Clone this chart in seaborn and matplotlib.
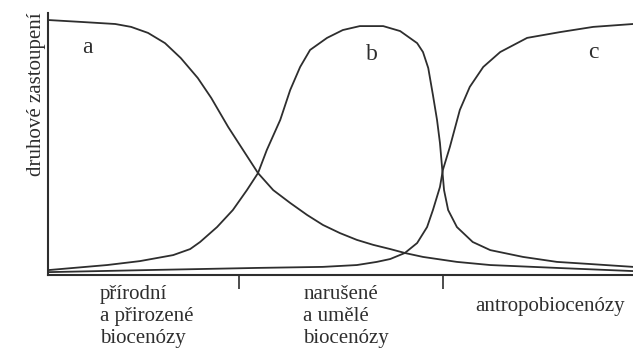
import numpy as np
import pandas as pd
import matplotlib
matplotlib.use('Agg')
import matplotlib.pyplot as plt
import seaborn as sns

# gradient position (0-100) and species share (0-100)
a_x = [0.2, 5.6, 11.5, 14.2, 17.1, 20.0, 22.7, 25.6, 27.9, 29.1, 30.8, 33.0, 35.9, 38.5, 41.4, 44.3,
       47.0, 49.9, 52.8, 55.6, 58.5, 61.0, 64.1, 69.9, 75.6, 87.0, 100]
a_y = [97.3, 96.6, 95.8, 94.7, 92.4, 88.5, 82.8, 75.2, 67.6, 63.0, 56.5, 48.9, 38.9, 32.4, 27.5, 22.9,
       19.1, 16.0, 13.4, 11.5, 9.9, 8.4, 6.9, 5.0, 3.8, 2.7, 1.5]

b_x = [0.2, 10.1, 15.7, 21.4, 24.3, 26.0, 28.9, 31.6, 34.0, 35.9, 37.4, 39.7, 41.4, 43.1, 44.8, 47.7,
       50.4, 53.3, 57.3, 60.2, 63.1, 64.1, 65.0, 65.8, 66.5, 67.0, 67.4, 67.7, 68.4, 69.9, 72.6, 75.6,
       81.2, 87.0, 92.6, 100]
b_y = [1.9, 3.8, 5.3, 7.6, 9.9, 12.6, 18.3, 24.8, 32.4, 38.9, 47.7, 59.2, 70.6, 79.4, 85.9, 90.5,
       93.5, 95.0, 95.0, 93.1, 88.5, 85.1, 79.0, 68.7, 59.2, 50.4, 40.1, 32.4, 24.8, 18.3, 12.6, 9.5,
       6.9, 5.0, 4.2, 3.1]

c_x = [0.2, 17.4, 35.7, 47.0, 52.8, 56.2, 58.5, 61.0, 63.1, 64.8, 65.8, 67.0, 67.5, 68.7, 70.4, 72.1,
       74.4, 77.3, 81.9, 87.5, 93.2, 100]
c_y = [1.1, 1.9, 2.7, 3.1, 3.8, 5.0, 6.1, 8.4, 12.2, 18.3, 24.8, 33.6, 40.1, 48.9, 63.0, 71.8,
       79.4, 85.1, 90.5, 92.7, 94.7, 95.8]

curve_names = ['a', 'b', 'c']
tick_pos = [32.6, 67.5]
categories = ['přírodní\na přirozené\nbiocenózy', 'narušené\na umělé\nbiocenózy', 'antropobiocenózy']
ylabel = 'druhové zastoupení'

df = pd.concat([
    pd.DataFrame({'x': a_x, 'y': a_y, 'curve': 'a'}),
    pd.DataFrame({'x': b_x, 'y': b_y, 'curve': 'b'}),
    pd.DataFrame({'x': c_x, 'y': c_y, 'curve': 'c'}),
])

sns.set_style('white')
plt.rcParams['font.family'] = ['Liberation Serif', 'DejaVu Serif']
ink = '#2e2e2e'

fig = plt.figure(figsize=(6.33, 3.5), dpi=100)
ax = fig.add_axes([48/633, 75/350, 585/633, 262/350])
sns.lineplot(data=df, x='x', y='y', hue='curve', palette=[ink]*3, estimator=None,
             linewidth=1.3, legend=False, ax=ax)
for ln in ax.lines:
    ln.set_solid_joinstyle('round')
ax.set_xlim(0, 100)
ax.set_ylim(0, 100)
sns.despine(ax=ax)
for s in ['left', 'bottom']:
    ax.spines[s].set_color(ink)
    ax.spines[s].set_linewidth(1.5)
ax.set_xticks(tick_pos)
ax.set_xticklabels([])
ax.set_yticks([])
ax.tick_params(axis='x', direction='out', length=10, width=1.2, color=ink, bottom=True)
ax.set_xlabel('')
ax.set_ylabel('')

for name, (tx, ty) in zip(curve_names, [(6.8, 87), (55.4, 84), (93.2, 85)]):
    ax.text(tx, ty, name, fontsize=17, color=ink, ha='center', va='center')

fs = 15
for lab, (tx, ty) in zip(categories, [(8.9, -3.8), (43.6, -3.8), (73.0, -8.5)]):
    ax.text(tx, ty, lab, fontsize=fs, color=ink, ha='left', va='top', linespacing=1.2)

fig.text(37/633, 1 - 12/350, ylabel, rotation=90, fontsize=fs, color=ink, ha='center', va='top')

fig.savefig('out.png', dpi=100)
